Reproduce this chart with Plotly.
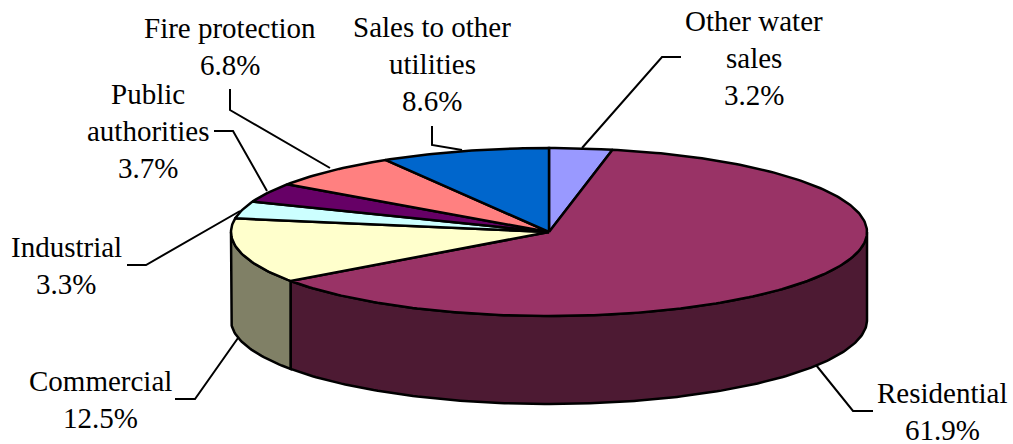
import numpy as np
import plotly.graph_objects as go

# slices clockwise from 12 o'clock
categories = ["Other water sales", "Residential", "Commercial", "Industrial",
              "Public authorities", "Fire protection", "Sales to other utilities"]
shares = [3.2, 61.9, 12.5, 3.3, 3.7, 6.8, 8.6]
top_colors = ["#9999FF", "#993366", "#FFFFCC", "#CCFFFF", "#660066", "#FF8080", "#0066CC"]
side_colors = ["#4D4D80", "#4D1A33", "#808066", "#668080", "#330033", "#804040", "#003366"]

# label lines, one entry per text line
label_lines = [
    ["Other water", "sales", "3.2%"],
    ["Residential", "61.9%"],
    ["Commercial", "12.5%"],
    ["Industrial", "3.3%"],
    ["Public", "authorities", "3.7%"],
    ["Fire protection", "6.8%"],
    ["Sales to other", "utilities", "8.6%"],
]
label_x = [754, 942, 100, 66, 148, 230, 432]
label_top = [21, 393, 381, 247, 94, 28, 27]
line_gap = 37

leader_x = [[582, 662, 681], [816, 853, 873], [238, 195, 175], [240, 146, 127],
            [267, 233, 214], [330, 230, 230], [462, 432, 432]]
leader_y = [[148, 57, 57], [365, 411, 411], [338, 399, 399], [211, 265, 265],
            [191, 131, 131], [168, 110, 89], [150, 145, 126]]

# pie geometry in page pixels
cx, cy = 549, 232
rx, ry = 318, 84
depth = 88


def arc(start, end, drop=0):
    """Points along the rim between two cumulative shares (percent)."""
    n = max(2, int(abs(end - start) * 4))
    t = np.radians(np.linspace(start, end, n) * 3.6)
    return cx + rx * np.sin(t), cy - ry * np.cos(t) + drop


fig = go.Figure()

edges = np.concatenate([[0], np.cumsum(shares)])

# side walls first, only the front half of the rim shows
for i in range(len(shares)):
    a = max(edges[i], 25)
    b = min(edges[i + 1], 75)
    if b <= a:
        continue
    x1, y1 = arc(a, b)
    x2, y2 = arc(b, a, depth)
    fig.add_trace(go.Scatter(x=np.concatenate([x1, x2, x1[:1]]),
                             y=np.concatenate([y1, y2, y1[:1]]),
                             mode="lines", fill="toself", fillcolor=side_colors[i],
                             line=dict(color="black", width=2.5), hoverinfo="skip"))

# top face
for i in range(len(shares)):
    x1, y1 = arc(edges[i], edges[i + 1])
    fig.add_trace(go.Scatter(x=np.concatenate([[cx], x1, [cx]]),
                             y=np.concatenate([[cy], y1, [cy]]),
                             mode="lines", fill="toself", fillcolor=top_colors[i],
                             line=dict(color="black", width=2.5), name=categories[i],
                             hoverinfo="name"))

for xs, ys in zip(leader_x, leader_y):
    fig.add_trace(go.Scatter(x=xs, y=ys, mode="lines",
                             line=dict(color="black", width=2), hoverinfo="skip"))

for lines, x, top in zip(label_lines, label_x, label_top):
    for j, text in enumerate(lines):
        fig.add_annotation(x=x, y=top + j * line_gap, text=text, showarrow=False,
                           xanchor="center", yanchor="middle",
                           font=dict(family="Liberation Serif", size=29, color="black"))

fig.update_layout(
    width=1013, height=444,
    margin=dict(l=0, r=0, t=0, b=0),
    paper_bgcolor="white", plot_bgcolor="white",
    showlegend=False,
    xaxis=dict(range=[0, 1013], visible=False),
    yaxis=dict(range=[444, 0], visible=False),
)

# drop the page's default body margin so the figure sits at the window corner
fig.write_html("out.html", config=dict(displayModeBar=False),
               post_script="document.body.style.margin = '0';")
